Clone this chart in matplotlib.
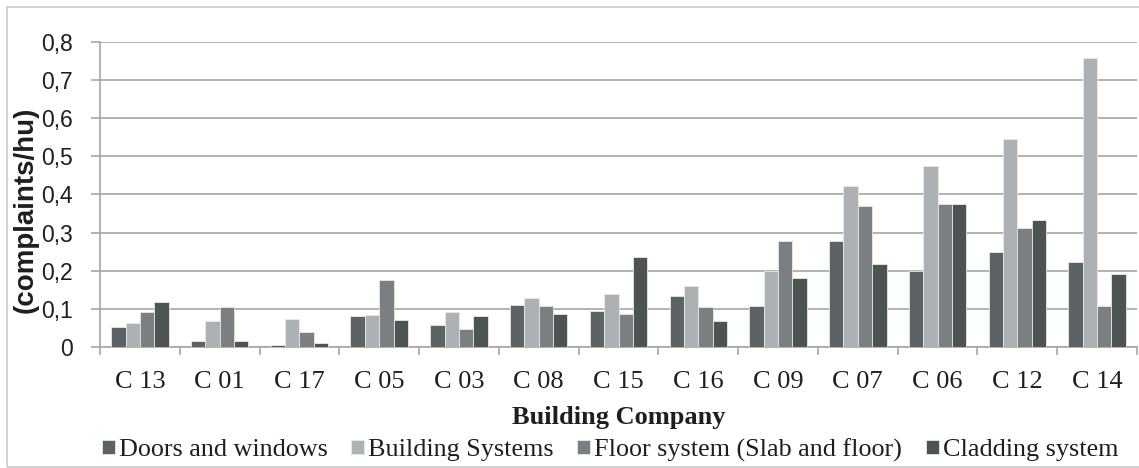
import numpy as np
import matplotlib
matplotlib.use("Agg")
import matplotlib.pyplot as plt
from matplotlib.patches import Rectangle

# values
companies = ["C 13", "C 01", "C 17", "C 05", "C 03", "C 08", "C 15",
             "C 16", "C 09", "C 07", "C 06", "C 12", "C 14"]
doors = [0.053, 0.017, 0.006, 0.081, 0.058, 0.111, 0.094, 0.134, 0.107, 0.277, 0.199, 0.250, 0.222]
building_sys = [0.064, 0.067, 0.074, 0.085, 0.093, 0.128, 0.138, 0.159, 0.199, 0.421, 0.475, 0.546, 0.757]
floor_sys = [0.093, 0.105, 0.040, 0.175, 0.048, 0.107, 0.087, 0.105, 0.277, 0.371, 0.374, 0.313, 0.107]
cladding = [0.118, 0.017, 0.010, 0.072, 0.081, 0.086, 0.237, 0.067, 0.182, 0.219, 0.374, 0.333, 0.192]
series_names = ["Doors and windows", "Building Systems",
                "Floor system (Slab and floor)", "Cladding system"]
yticks = [0, 0.1, 0.2, 0.3, 0.4, 0.5, 0.6, 0.7, 0.8]
ytick_labels = ["0", "0,1", "0,2", "0,3", "0,4", "0,5", "0,6", "0,7", "0,8"]

colors = ["#5d6265", "#adb1b4", "#7b7f82", "#4e5354"]
grid_col = "#a3a7a9"
txt_col = "#1e1e1e"

fig = plt.figure(figsize=(11.39, 4.68), dpi=100)
ax = fig.add_axes([100 / 1139, 121 / 468, 1037 / 1139, 305 / 468])

x = np.arange(len(companies))
w = 0.18
for k, (vals, name) in enumerate(zip([doors, building_sys, floor_sys, cladding], series_names)):
    ax.bar(x + (k - 1.5) * w, vals, width=w, color=colors[k], edgecolor="#e6e8e9",
           linewidth=0.6, label=name, zorder=3)

ax.set_xlim(-0.5, len(companies) - 0.5)
ax.set_ylim(0, 0.8)
ax.set_yticks(yticks)
ax.set_yticklabels(ytick_labels, fontsize=16.5, family="Liberation Sans", color=txt_col)
ax.yaxis.grid(True, color=grid_col, linewidth=1.2, zorder=0)
ax.set_axisbelow(True)

ax.set_xticks(x)
ax.set_xticklabels(companies, fontsize=19, family="Liberation Serif", color=txt_col)
ax.set_xticks(np.arange(len(companies) + 1) - 0.5, minor=True)
ax.tick_params(axis="x", which="major", length=0, pad=17)
ax.tick_params(axis="x", which="minor", length=6, width=1.2, color=grid_col)
ax.tick_params(axis="y", length=6.5, width=1.2, color=grid_col, pad=13)

for side in ["top", "right"]:
    ax.spines[side].set_visible(False)
for side in ["left", "bottom"]:
    ax.spines[side].set_color(grid_col)
    ax.spines[side].set_linewidth(1.2)

ax.set_xlabel("Building Company", fontsize=19, family="Liberation Serif",
              fontweight="bold", color=txt_col)
ax.xaxis.set_label_coords(0.5, -0.195)
ax.set_ylabel("(complaints/hu)", fontsize=20, family="Liberation Sans",
              fontweight="bold", color=txt_col)
ax.yaxis.set_label_coords(-0.0595, 0.45)

leg = fig.legend(loc="center", bbox_to_anchor=(610 / 1139, 1 - 450 / 468), ncol=4,
                 frameon=False, prop={"family": "Liberation Serif", "size": 18.8},
                 handlelength=0.5, handleheight=0.5, handletextpad=0.15,
                 columnspacing=0.9, borderaxespad=0)
for t in leg.get_texts():
    t.set_color(txt_col)

fig.patches.append(Rectangle((7 / 1139, 1 / 468), 1.0, 460 / 468, transform=fig.transFigure,
                             fill=False, edgecolor="#c8cacb", linewidth=1.2))

fig.savefig("out.png", dpi=100)
